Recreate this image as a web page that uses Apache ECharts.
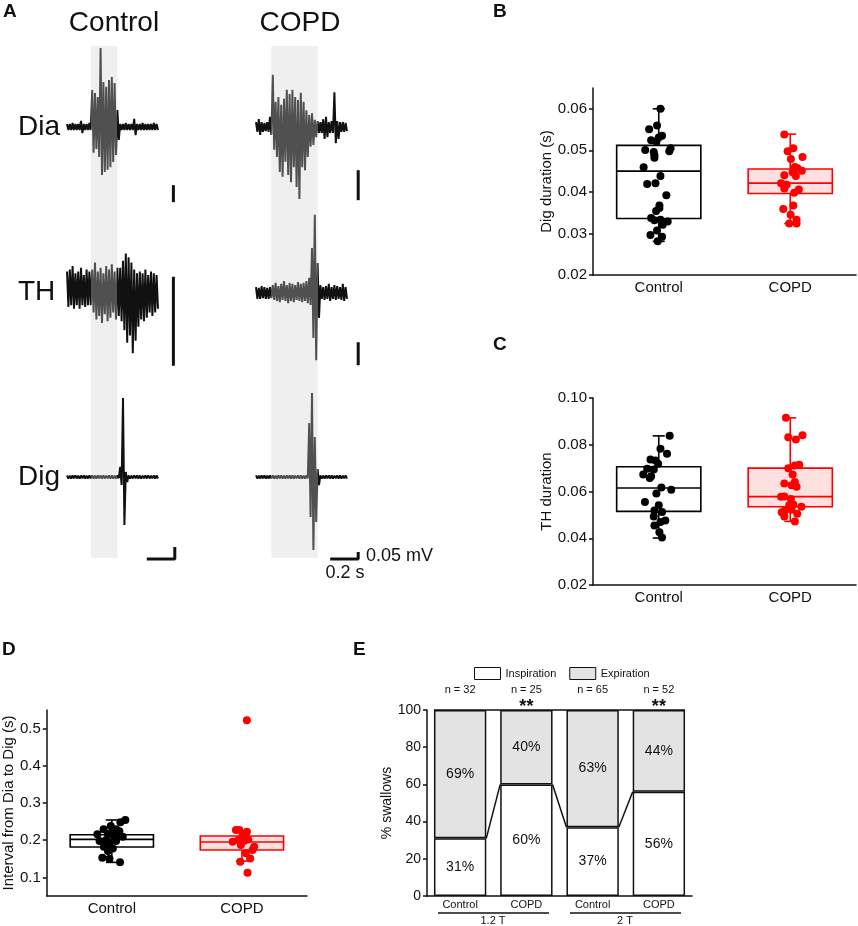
<!DOCTYPE html>
<html>
<head>
<meta charset="utf-8" />
<title>Swallow EMG</title>
<script src="https://cdn.jsdelivr.net/npm/echarts@6.0.0/dist/echarts.min.js"></script>
<style>
html, body { margin: 0; padding: 0; background: #fff; }
#main { width: 858px; height: 926px; }
</style>
</head>
<body>
<div id="main"></div>
<script type="text/javascript">
var myChart = echarts.init(document.getElementById('main'));
var FONT = 'Arial, "Liberation Sans", sans-serif';

// ---- A: EMG traces, peak up / peak down per 0.02 s bin (µV) ----
var binStep = 0.02;
var burstControl = [0.17, 0.36];
var burstCOPD = [0.11, 0.44];

var diaControlHi = [9, 9, 12, 9, 9, 18, 9, 9, 12, 109, 100, 88, 232, 132, 118, 138, 147, 129, 50, 9, 9, 12, 9, 9, 24, 9, 9, 12, 9, 9, 9, 12, 9];
var diaControlLo = [9, 9, 9, 9, 9, 18, 9, 9, 9, 76, 65, 88, 141, 132, 126, 118, 103, 82, 38, 9, 9, 9, 9, 9, 24, 9, 9, 9, 9, 9, 9, 9, 9];
var thControlHi = [11, 12, 14, 10, 11, 13, 9, 12, 11, 12, 16, 11, 13, 10, 14, 12, 15, 11, 13, 13, 17, 21, 19, 16, 12, 10, 11, 10, 12, 9, 11, 10, 9];
var thControlLo = [9, 8, 10, 8, 10, 8, 9, 8, 8, 12, 16, 14, 18, 13, 17, 15, 12, 16, 14, 17, 22, 29, 25, 35, 28, 20, 16, 17, 15, 12, 14, 12, 10];
var digControlHi = [6, 5, 6, 7, 5, 6, 6, 5, 7, 6, 5, 6, 6, 7, 5, 6, 6, 5, 6, 42, 329, 21, 6, 5, 7, 6, 6, 5, 6, 7, 5, 6, 6];
var digControlLo = [6, 6, 5, 6, 7, 5, 6, 6, 5, 6, 6, 5, 7, 6, 5, 6, 6, 6, 5, 33, 200, 21, 6, 6, 5, 6, 7, 5, 6, 6, 5, 6, 6];

var diaCOPDHi = [8, 13, 8, 7, 8, 17, 87, 42, 50, 37, 47, 62, 55, 62, 50, 45, 57, 42, 28, 20, 23, 12, 10, 8, 13, 17, 8, 10, 58, 10, 8, 8, 7];
var diaCOPDLo = [8, 13, 8, 7, 8, 13, 38, 50, 75, 83, 58, 80, 92, 67, 100, 120, 67, 72, 50, 33, 30, 17, 10, 10, 20, 17, 10, 10, 27, 20, 8, 8, 7];
var thCOPDHi = [13, 11, 15, 13, 11, 13, 17, 22, 15, 20, 26, 17, 22, 20, 17, 24, 20, 22, 26, 33, 98, 170, 65, 17, 13, 15, 20, 13, 17, 15, 13, 20, 13];
var thCOPDLo = [13, 13, 11, 13, 13, 11, 15, 17, 20, 15, 17, 22, 17, 20, 15, 17, 20, 17, 22, 26, 98, 146, 54, 13, 15, 13, 17, 13, 15, 13, 15, 17, 13];
var digCOPDHi = [11, 10, 11, 12, 10, 11, 11, 10, 12, 11, 10, 11, 11, 12, 10, 11, 11, 10, 11, 386, 600, 286, 57, 11, 10, 12, 11, 11, 10, 11, 12, 10, 11];
var digCOPDLo = [11, 11, 10, 11, 12, 10, 11, 11, 10, 11, 11, 10, 12, 11, 10, 11, 11, 11, 10, 286, 521, 321, 57, 11, 11, 10, 11, 12, 10, 11, 11, 10, 11];

// ---- B/C/D: box stats [low whisker, q1, median, q3, high whisker] and points ----
var groups = ['Control', 'COPD'];

var digDurBox = [[0.0281, 0.0336, 0.0450, 0.0512, 0.0600], [0.0324, 0.0396, 0.0421, 0.0455, 0.0539]];
var digDurControl = [0.0600, 0.0560, 0.0551, 0.0535, 0.0531, 0.0524, 0.0521, 0.0505, 0.0498, 0.0501, 0.0496, 0.0488, 0.0482, 0.0459, 0.0438, 0.0419, 0.0421, 0.0392, 0.0367, 0.0361, 0.0354, 0.0337, 0.0333, 0.0332, 0.0329, 0.0321, 0.0307, 0.0296, 0.0292, 0.0281];
var digDurControlJit = [0.013, -0.013, -0.073, 0.025, 0, -0.058, -0.018, 0.09, 0.08, -0.103, -0.038, -0.033, -0.033, -0.115, 0.013, -0.088, -0.025, 0.058, 0.005, 0.005, -0.02, -0.058, 0.013, -0.033, 0.068, 0.03, -0.013, -0.063, 0.025, -0.008];
var digDurCOPD = [0.0538, 0.0505, 0.0498, 0.0484, 0.0479, 0.0460, 0.0457, 0.0451, 0.0447, 0.0438, 0.0440, 0.0421, 0.0417, 0.0408, 0.0406, 0.0398, 0.0359, 0.0367, 0.0345, 0.0333, 0.0324, 0.0324];
var digDurCOPDJit = [-0.045, 0.023, -0.02, 0.093, 0.005, 0.035, 0.055, 0.088, 0.018, 0.043, -0.045, -0.07, -0.028, -0.045, 0.065, 0.03, -0.053, 0.023, 0.003, 0.048, -0.008, 0.048];

var thDurBox = [[0.0401, 0.0515, 0.0615, 0.0706, 0.0838], [0.0472, 0.0535, 0.0578, 0.0700, 0.0915]];
var thDurControl = [0.0838, 0.0783, 0.0762, 0.0737, 0.0733, 0.0719, 0.0697, 0.0694, 0.0673, 0.0658, 0.0665, 0.0617, 0.0607, 0.0591, 0.0555, 0.0541, 0.0519, 0.0512, 0.0493, 0.0476, 0.0469, 0.0455, 0.0426, 0.0403];
var thDurControlJit = [0.083, 0.013, 0.063, -0.063, -0.025, -0.005, -0.088, -0.038, -0.118, -0.068, -0.058, 0.02, 0.095, -0.018, -0.105, 0, -0.033, 0.025, -0.038, 0.05, 0.013, -0.033, 0.005, 0.025];
var thDurCOPD = [0.0915, 0.0832, 0.0822, 0.0841, 0.0700, 0.0711, 0.0714, 0.0673, 0.0634, 0.0627, 0.0641, 0.0620, 0.0578, 0.0579, 0.0568, 0.0541, 0.0544, 0.0535, 0.0519, 0.0511, 0.0522, 0.0505, 0.0493, 0.0472];
var thDurCOPDJit = [-0.033, -0.015, 0.043, 0.093, -0.015, 0.035, 0.068, 0.018, -0.045, 0.01, 0.035, 0.048, -0.07, -0.045, 0.005, -0.008, 0.023, 0.085, -0.04, -0.065, 0.01, 0.053, -0.045, 0.035];

var intervalBox = [[0.1404, 0.1816, 0.2022, 0.2148, 0.2543], [0.1440, 0.1735, 0.1951, 0.2112, 0.2250]];
var intervalControl = [0.2543, 0.2480, 0.2381, 0.2292, 0.2292, 0.2247, 0.2238, 0.2157, 0.2094, 0.2166, 0.2112, 0.2094, 0.1978, 0.2004, 0.1978, 0.1915, 0.1825, 0.1780, 0.1709, 0.1529, 0.1502, 0.1404];
var intervalControlJit = [0.104, 0.066, -0.008, -0.063, 0.033, 0.008, 0.058, -0.111, 0.084, -0.03, 0.015, 0.046, -0.094, -0.043, 0.033, -0.018, -0.061, 0.008, -0.03, -0.073, -0.018, 0.063];
var intervalCOPD = [0.5224, 0.2274, 0.2274, 0.2229, 0.2139, 0.1960, 0.2004, 0.1987, 0.2022, 0.1870, 0.1825, 0.1735, 0.1646, 0.1511, 0.1421, 0.1126];
var intervalCOPDJit = [0.038, -0.046, -0.02, 0.038, 0.005, -0.071, -0.028, 0.018, 0.048, -0.008, 0.094, 0.081, 0.03, 0.063, -0.013, 0.043];

// ---- E: breathing phase of swallows ----
var phaseCats = ['Control', 'COPD', 'Control', 'COPD'];
var inspiration = [31, 60, 37, 56];
var expiration = [69, 40, 63, 44];
var nSwallows = [32, 25, 65, 52];
var sigMarks = ['', '**', '', '**'];

// ---- layout for panel A ----
var traceTop = 46, traceBottom = 558;
var traceLayout = [
  // baseline pixel, px per 50 µV scale bar, scale bar [time, bottom µV]
  [{ yb: 127, px: 17, bar: [0.76, -221] }, { yb: 291, px: 89, bar: [0.76, -42] }, { yb: 477, px: 12, bar: [0.77, -342] }],
  [{ yb: 127, px: 30, bar: [0.73, -122] }, { yb: 293, px: 23, bar: [0.73, -157] }, { yb: 477, px: 7, bar: [0.73, -586] }]
];
var columns = [
  { left: 67, burst: burstControl, traces: [[diaControlHi, diaControlLo], [thControlHi, thControlLo], [digControlHi, digControlLo]] },
  { left: 256, burst: burstCOPD, traces: [[diaCOPDHi, diaCOPDLo], [thCOPDHi, thCOPDLo], [digCOPDHi, digCOPDLo]] }
];

function zigzag(hi, lo) {
  var pts = [];
  for (var i = 0; i < hi.length; i++) {
    var t = i * binStep;
    pts.push([t, hi[i]]);
    pts.push([t + binStep / 2, -lo[i]]);
  }
  return pts;
}

var grids = [], xAxes = [], yAxes = [], series = [], visualMaps = [];

columns.forEach(function (col, c) {
  grids.push({ left: col.left, top: traceTop, width: 112, height: traceBottom - traceTop });
  xAxes.push({ type: 'value', gridIndex: c, min: 0, max: 0.8, show: false });
  var traceIdx = [];
  col.traces.forEach(function (tr, j) {
    var lay = traceLayout[c][j];
    var k = lay.px / 50;
    var yIndex = yAxes.length;
    yAxes.push({
      type: 'value', gridIndex: c, show: false,
      min: -(traceBottom - lay.yb) / k, max: (lay.yb - traceTop) / k
    });
    // scale bar (0.05 mV, and 0.2 s on the last trace)
    var b = lay.bar;
    var barPts = [[b[0], b[1]], [b[0], b[1] + 50]];
    if (j === 2) barPts.unshift([b[0] - 0.2, b[1]]);
    var barSeries = {
      type: 'line', xAxisIndex: c, yAxisIndex: yIndex, data: barPts,
      showSymbol: false, clip: false, silent: true,
      lineStyle: { color: '#111', width: 3 }, z: 3
    };
    if (j === 0) {
      barSeries.markArea = {
        silent: true, z: 1,
        itemStyle: { color: '#efefef' },
        data: [[{ xAxis: col.burst[0] }, { xAxis: col.burst[1] }]]
      };
    }
    series.push(barSeries);
    traceIdx.push(series.length);
    series.push({
      type: 'line', xAxisIndex: c, yAxisIndex: yIndex, data: zigzag(tr[0], tr[1]),
      showSymbol: false, clip: false, silent: true, z: 3,
      lineStyle: { width: 2 }
    });
  });
  visualMaps.push({
    type: 'piecewise', show: false, dimension: 0, seriesIndex: traceIdx,
    pieces: [
      { lt: col.burst[0], color: '#111' },
      { gte: col.burst[0], lte: col.burst[1], color: '#505050' },
      { gt: col.burst[1], color: '#111' }
    ]
  });
});

// ---- box panels B, C, D ----
var boxColors = ['#000', '#ff0000'];
var boxFills = ['#ffffff', '#fde0e0'];

function renderBox(params, api) {
  var g = api.value(0);
  var cx = api.coord([g, api.value(3)])[0];
  var bw = api.size([1, 0])[0] * 0.64;
  var yLow = api.coord([g, api.value(1)])[1];
  var yQ1 = api.coord([g, api.value(2)])[1];
  var yMed = api.coord([g, api.value(3)])[1];
  var yQ3 = api.coord([g, api.value(4)])[1];
  var yHigh = api.coord([g, api.value(5)])[1];
  var st = { stroke: boxColors[g], lineWidth: 1.6, fill: null };
  function ln(x1, y1, x2, y2) { return { type: 'line', shape: { x1: x1, y1: y1, x2: x2, y2: y2 }, style: st }; }
  return {
    type: 'group',
    children: [
      ln(cx, yQ3, cx, yHigh), ln(cx, yQ1, cx, yLow),
      ln(cx - 6, yHigh, cx + 6, yHigh), ln(cx - 6, yLow, cx + 6, yLow),
      { type: 'rect', shape: { x: cx - bw / 2, y: yQ3, width: bw, height: yQ1 - yQ3 }, style: { fill: boxFills[g], stroke: boxColors[g], lineWidth: 1.6 } },
      ln(cx - bw / 2, yMed, cx + bw / 2, yMed)
    ]
  };
}

function renderPoint(params, api) {
  var g = api.value(0);
  var p = api.coord([g, api.value(1)]);
  var band = api.size([1, 0])[0];
  return { type: 'circle', shape: { cx: p[0] + api.value(2) * band, cy: p[1], r: 4 }, style: { fill: boxColors[g] } };
}

function pointData(g, vals, jit) {
  return vals.map(function (v, i) { return [g, v, jit[i]]; });
}

var boxPanels = [
  { grid: { left: 593, right: 2, top: 88, bottom: 651 }, name: 'Dig duration (s)', gap: 38, min: 0.02, max: 0.065, ticks: [0.02, 0.03, 0.04, 0.05, 0.06], digits: 2, box: digDurBox, pts: [[digDurControl, digDurControlJit], [digDurCOPD, digDurCOPDJit]] },
  { grid: { left: 593, right: 2, top: 398, bottom: 341 }, name: 'TH duration', gap: 38, min: 0.02, max: 0.10, ticks: [0.02, 0.04, 0.06, 0.08, 0.10], digits: 2, box: thDurBox, pts: [[thDurControl, thDurControlJit], [thDurCOPD, thDurCOPDJit]] },
  { grid: { left: 43, right: 551, top: 710, bottom: 30 }, name: 'Interval from Dia to Dig (s)', gap: 27, min: 0.05, max: 0.55, ticks: [0.1, 0.2, 0.3, 0.4, 0.5], digits: 1, box: intervalBox, pts: [[intervalControl, intervalControlJit], [intervalCOPD, intervalCOPDJit]] }
];

var axisLineStyle = { lineStyle: { color: '#111', width: 1.5 } };

boxPanels.forEach(function (p) {
  var gi = grids.length;
  grids.push(p.grid);
  xAxes.push({
    type: 'category', gridIndex: gi, data: groups,
    axisLine: axisLineStyle, axisTick: { show: false },
    axisLabel: { color: '#111', fontSize: 15, fontFamily: FONT, margin: 5 }
  });
  var yi = yAxes.length;
  yAxes.push({
    type: 'value', gridIndex: gi, min: p.min, max: p.max,
    name: p.name, nameLocation: 'middle', nameRotate: 90, nameGap: p.gap,
    nameTextStyle: { color: '#111', fontSize: 15, fontFamily: FONT },
    axisLine: { show: true, lineStyle: { color: '#111', width: 1.5 } },
    axisTick: { show: true, length: 4, customValues: p.ticks, lineStyle: { color: '#111', width: 1.5 } },
    splitLine: { show: false },
    axisLabel: { color: '#111', fontSize: 15, fontFamily: FONT, margin: 6, customValues: p.ticks,
      formatter: function (v) { return v.toFixed(p.digits); } }
  });
  series.push({
    type: 'custom', xAxisIndex: gi, yAxisIndex: yi, renderItem: renderBox,
    encode: { x: 0, y: [1, 2, 3, 4, 5] }, silent: true,
    data: p.box.map(function (b, g) { return [g].concat(b); })
  });
  series.push({
    type: 'custom', xAxisIndex: gi, yAxisIndex: yi, renderItem: renderPoint,
    encode: { x: 0, y: 1 }, silent: true, z: 4,
    data: pointData(0, p.pts[0][0], p.pts[0][1]).concat(pointData(1, p.pts[1][0], p.pts[1][1]))
  });
});

// ---- E: stacked phase bars ----
var eGrid = grids.length;
grids.push({ left: 427, right: 166, top: 710, bottom: 30 });
xAxes.push({
  type: 'category', gridIndex: eGrid, data: phaseCats,
  axisLine: axisLineStyle, axisTick: { show: false },
  axisLabel: { color: '#111', fontSize: 11, fontFamily: FONT, margin: 3, interval: 0 }
});
var eY = yAxes.length;
yAxes.push({
  type: 'value', gridIndex: eGrid, min: 0, max: 100, interval: 20,
  name: '% swallows', nameLocation: 'middle', nameRotate: 90, nameGap: 33,
  nameTextStyle: { color: '#111', fontSize: 14, fontFamily: FONT },
  axisLine: { show: true, lineStyle: { color: '#111', width: 1.5 } },
  axisTick: { show: true, length: 4, lineStyle: { color: '#111', width: 1.5 } },
  splitLine: { show: false },
  axisLabel: { color: '#111', fontSize: 14, fontFamily: FONT, margin: 6 }
});

var barLabel = { show: true, position: 'inside', formatter: '{c}%', color: '#111', fontSize: 14, fontFamily: FONT };
series.push({
  name: 'Inspiration', type: 'bar', stack: 'phase', xAxisIndex: eGrid, yAxisIndex: eY,
  barWidth: '79%', data: inspiration, label: barLabel, silent: true,
  itemStyle: { color: '#ffffff', borderColor: '#111', borderWidth: 1.5 }
});
series.push({
  name: 'Expiration', type: 'bar', stack: 'phase', xAxisIndex: eGrid, yAxisIndex: eY,
  barWidth: '79%', data: expiration, label: barLabel, silent: true,
  itemStyle: { color: '#e3e3e3', borderColor: '#111', borderWidth: 1.5 }
});

// connectors between inspiration tops, and the 100 % line across the gaps
var links = [];
for (var i = 0; i < inspiration.length - 1; i++) links.push([i, inspiration[i], i + 1, inspiration[i + 1]]);
series.push({
  type: 'custom', xAxisIndex: eGrid, yAxisIndex: eY, silent: true, z: 5,
  encode: { x: [0, 2], y: [1, 3] }, data: links,
  renderItem: function (params, api) {
    var half = api.size([1, 0])[0] * 0.79 / 2;
    var a = api.coord([api.value(0), api.value(1)]);
    var b = api.coord([api.value(2), api.value(3)]);
    return { type: 'line', shape: { x1: a[0] + half, y1: a[1], x2: b[0] - half, y2: b[1] }, style: { stroke: '#111', lineWidth: 1.5 } };
  }
});
series.push({
  type: 'custom', xAxisIndex: eGrid, yAxisIndex: eY, silent: true, z: 5,
  encode: { x: [0, 2], y: [1, 3] }, data: [[0, 100, phaseCats.length - 1, 100]],
  renderItem: function (params, api) {
    var half = api.size([1, 0])[0] * 0.79 / 2;
    var a = api.coord([api.value(0), api.value(1)]);
    var b = api.coord([api.value(2), api.value(3)]);
    return { type: 'line', shape: { x1: a[0] - half, y1: a[1], x2: b[0] + half, y2: b[1] }, style: { stroke: '#111', lineWidth: 1.5 } };
  }
});
series.push({
  type: 'custom', xAxisIndex: eGrid, yAxisIndex: eY, silent: true, z: 5,
  encode: { x: 0, y: 1 }, data: nSwallows.map(function (n, i) { return [i, 100]; }),
  renderItem: function (params, api) {
    var p = api.coord([api.value(0), api.value(1)]);
    return {
      type: 'group', children: [
        { type: 'text', x: p[0], y: p[1] - 20, style: { text: 'n = ' + nSwallows[params.dataIndex], fontSize: 11, fontFamily: FONT, fill: '#111', align: 'center', verticalAlign: 'middle' } },
        { type: 'text', x: p[0], y: p[1] - 12, style: { text: sigMarks[params.dataIndex], fontSize: 18, fontWeight: 'bold', fontFamily: FONT, fill: '#111', align: 'center', verticalAlign: 'top' } }
      ]
    };
  }
});

// ---- free text and annotation lines ----
function txt(x, y, s, size, opts) {
  opts = opts || {};
  return {
    type: 'text', x: x, y: y, silent: true,
    style: { text: s, fontSize: size, fontFamily: FONT, fontWeight: opts.bold ? 'bold' : 'normal', fill: '#111',
      align: opts.align || 'left', verticalAlign: opts.valign || 'middle' }
  };
}
function hline(x1, x2, y) {
  return { type: 'line', silent: true, shape: { x1: x1, y1: y, x2: x2, y2: y }, style: { stroke: '#111', lineWidth: 1.5 } };
}

var graphics = [
  txt(3, 12, 'A', 19, { bold: true }),
  txt(493, 12, 'B', 19, { bold: true }),
  txt(493, 345, 'C', 19, { bold: true }),
  txt(2, 650, 'D', 19, { bold: true }),
  txt(353, 650, 'E', 19, { bold: true }),
  txt(114, 23, groups[0], 28, { align: 'center' }),
  txt(300, 23, groups[1], 28, { align: 'center' }),
  txt(18, 127, 'Dia', 28),
  txt(18, 292, 'TH', 28),
  txt(18, 477, 'Dig', 28),
  txt(366, 556, '0.05 mV', 18),
  txt(345, 573, '0.2 s', 18, { align: 'center' }),
  hline(438, 549, 913),
  hline(570, 681, 913),
  txt(493, 921, '1.2 T', 11, { align: 'center' }),
  txt(625, 921, '2 T', 11, { align: 'center' })
];

option = {
  animation: false,
  backgroundColor: '#fff',
  textStyle: { fontFamily: FONT },
  legend: {
    data: ['Inspiration', 'Expiration'],
    left: 474, top: 667, padding: 0,
    itemWidth: 26, itemHeight: 12, itemGap: 13, icon: 'rect',
    selectedMode: false,
    itemStyle: { borderColor: '#111', borderWidth: 1 },
    textStyle: { color: '#111', fontSize: 11, fontFamily: FONT }
  },
  visualMap: visualMaps,
  grid: grids,
  xAxis: xAxes,
  yAxis: yAxes,
  series: series,
  graphic: graphics
};

myChart.setOption(option);
</script>
</body>
</html>
